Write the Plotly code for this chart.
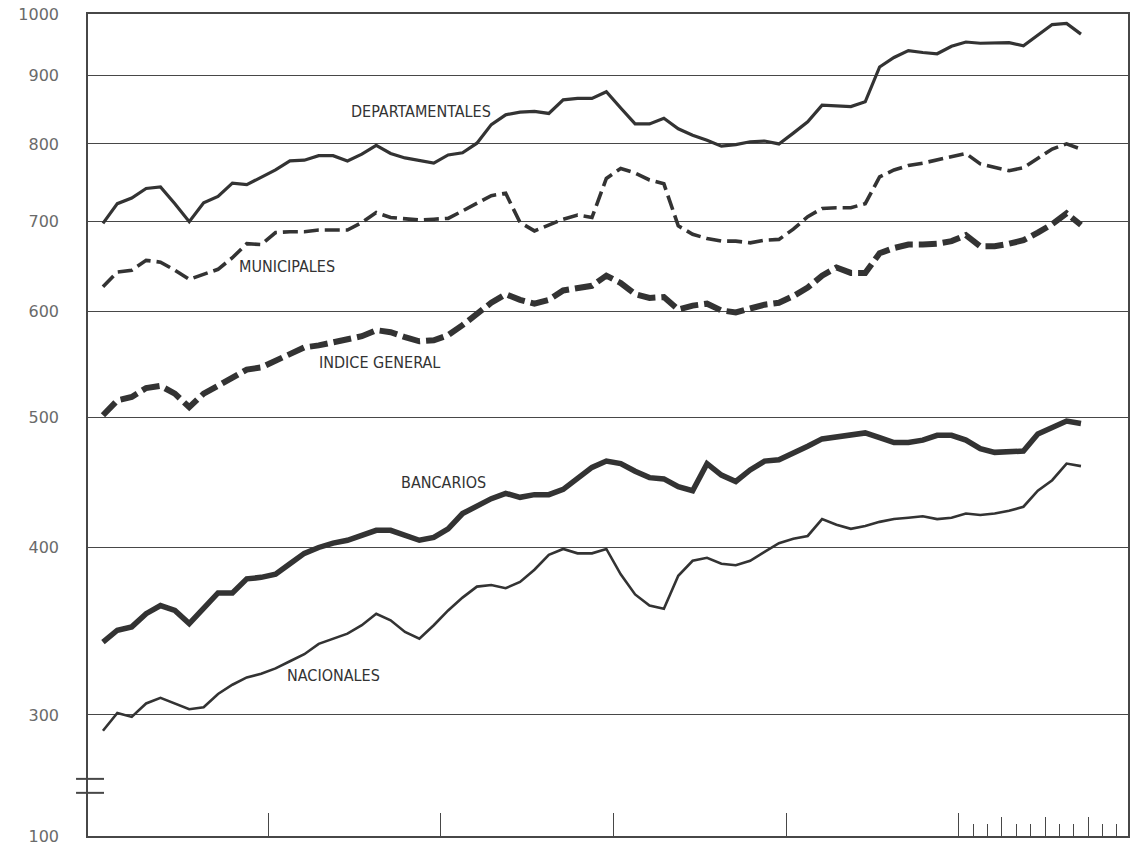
import math
import plotly.graph_objects as go

# ---------------- data (monthly index values) ----------------
months = list(range(1, 70))

departamentales = [698, 722, 729, 741, 743, 722, 700, 723, 731, 748,
                   746, 755, 765, 777, 778, 784, 784, 777, 786, 798,
                   787, 781, 777, 774, 785, 788, 801, 827, 841, 845,
                   846, 843, 863, 865, 865, 875, 851, 828, 828, 836,
                   821, 812, 805, 797, 799, 803, 804, 800, 815, 831,
                   855, 854, 853, 860, 913, 928, 939, 936, 934, 946,
                   953, 951, 952, 952, 947, 965, 982, 984, 966]

municipales = [626, 642, 644, 655, 653, 644, 634, 640, 645, 658,
               674, 673, 687, 688, 688, 690, 690, 690, 699, 711,
               705, 703, 702, 703, 704, 713, 722, 732, 735, 699,
               689, 696, 703, 708, 705, 754, 767, 761, 752, 747,
               695, 685, 680, 677, 677, 675, 678, 679, 691, 706,
               716, 717, 717, 722, 756, 765, 771, 774, 778, 782,
               787, 773, 769, 764, 768, 781, 793, 800, 793]

indice_general = [502, 515, 518, 526, 528, 521, 509, 521, 528, 536,
                  543, 545, 551, 558, 564, 566, 569, 572, 575, 581,
                  579, 574, 570, 571, 576, 586, 597, 609, 618, 612,
                  608, 612, 622, 625, 627, 638, 630, 618, 614, 615,
                  602, 606, 608, 601, 599, 603, 607, 609, 616, 625,
                  638, 647, 641, 641, 663, 669, 673, 673, 674, 677,
                  684, 671, 671, 674, 678, 687, 697, 710, 696]

bancarios = [340, 347, 349, 357, 362, 359, 351, 361, 370, 370,
             379, 380, 382, 389, 396, 400, 403, 405, 409, 412,
             412, 408, 405, 407, 413, 424, 430, 435, 439, 436,
             438, 438, 442, 450, 459, 464, 462, 456, 451, 450,
             444, 441, 462, 453, 448, 457, 464, 465, 470, 476,
             482, 484, 486, 487, 483, 479, 479, 481, 485, 485,
             481, 474, 471, 471, 472, 486, 492, 497, 495]

nacionales = [292, 301, 299, 306, 309, 306, 303, 304, 311, 316,
              320, 322, 325, 329, 333, 339, 342, 345, 350, 357,
              353, 346, 342, 350, 359, 367, 374, 375, 373, 377,
              385, 395, 399, 396, 396, 399, 382, 369, 362, 360,
              381, 391, 393, 389, 388, 391, 397, 403, 406, 408,
              420, 416, 413, 415, 418, 420, 421, 422, 420, 421,
              424, 423, 424, 426, 429, 441, 449, 462, 460]

ytick_values = [300, 400, 500, 600, 700, 800, 900, 1000]
ytick_labels = ["300", "400", "500", "600", "700", "800", "900", "1000"]
axis_floor = 243.7          # bottom of the broken scale
axis_floor_label = "100"

year_ticks = [12, 24, 36, 48, 60]
month_ticks = [61, 62, 64, 65, 67, 68, 70, 71]
quarter_ticks = [63, 66, 69]

# ---------------- figure ----------------
x_mid = [m - 0.5 for m in months]   # plotted at mid-month
INK = "#333333"
RULE = "#474747"

fig = go.Figure()
fig.add_trace(go.Scatter(x=x_mid, y=departamentales, mode="lines", name="DEPARTAMENTALES",
                         line=dict(color=INK, width=3.2)))
fig.add_trace(go.Scatter(x=x_mid, y=municipales, mode="lines", name="MUNICIPALES",
                         line=dict(color=INK, width=3.6, dash="15px,6px")))
fig.add_trace(go.Scatter(x=x_mid, y=indice_general, mode="lines", name="INDICE GENERAL",
                         line=dict(color=INK, width=6, dash="18px,6px")))
fig.add_trace(go.Scatter(x=x_mid, y=bancarios, mode="lines", name="BANCARIOS",
                         line=dict(color=INK, width=5.5)))
fig.add_trace(go.Scatter(x=x_mid, y=nacionales, mode="lines", name="NACIONALES",
                         line=dict(color=INK, width=2.6)))

xr = [-0.54, 71.77]
fig.update_layout(
    width=1135, height=851,
    margin=dict(l=88, r=5, t=14, b=12),
    paper_bgcolor="white", plot_bgcolor="white",
    showlegend=False,
    xaxis=dict(range=xr, showgrid=False, zeroline=False,
               showline=True, linecolor=RULE, linewidth=1.6, mirror=True,
               ticks="inside", tickmode="array", tickvals=year_ticks,
               ticklen=23, tickwidth=1.3, tickcolor=RULE, showticklabels=False,
               minor=dict(tickmode="array", tickvals=month_ticks, ticks="inside",
                          ticklen=12, tickwidth=1.2, tickcolor=RULE, showgrid=False)),
    xaxis2=dict(range=xr, overlaying="x", anchor="y", side="bottom",
                showgrid=False, zeroline=False, showline=False,
                ticks="inside", tickmode="array", tickvals=quarter_ticks,
                ticklen=19, tickwidth=1.3, tickcolor=RULE, showticklabels=False),
    yaxis=dict(type="log", range=[math.log10(axis_floor), 3],
               tickmode="array", tickvals=[axis_floor] + ytick_values,
               ticktext=[axis_floor_label] + ytick_labels,
               showgrid=True, gridcolor=RULE, gridwidth=1.4,
               showline=True, linecolor=RULE, linewidth=1.6, mirror=True,
               zeroline=False, ticks="", ticklabelstandoff=24,
               tickfont=dict(family="DejaVu Sans", size=16, color="#6a6a6a")),
)

# invisible carrier so the overlay axis (quarter ticks) is drawn
fig.add_trace(go.Scatter(x=[], y=[], xaxis="x2", yaxis="y", showlegend=False, hoverinfo="skip"))

label_font = dict(family="Liberation Sans Narrow, DejaVu Sans Condensed, Roboto Condensed, sans-serif",
                  size=16, color=INK)
labels = [("DEPARTAMENTALES", 0.3205, 0.8812),
          ("MUNICIPALES", 0.1910, 0.6925),
          ("INDICE GENERAL", 0.2800, 0.5765),
          ("BANCARIOS", 0.3417, 0.4305),
          ("NACIONALES", 0.2360, 0.1955)]
for txt, px, py in labels:
    fig.add_annotation(text=txt, x=px, y=py, xref="paper", yref="paper",
                       showarrow=False, font=label_font, xanchor="center", yanchor="middle")

# axis-break marks
for py in (0.0695, 0.0525):
    fig.add_shape(type="line", xref="paper", yref="paper", x0=-0.0115, x1=0.0154,
                  y0=py, y1=py, line=dict(color=RULE, width=2))

fig.write_html("out.html", config={"displayModeBar": False},
               post_script="document.body.style.margin='0';")
